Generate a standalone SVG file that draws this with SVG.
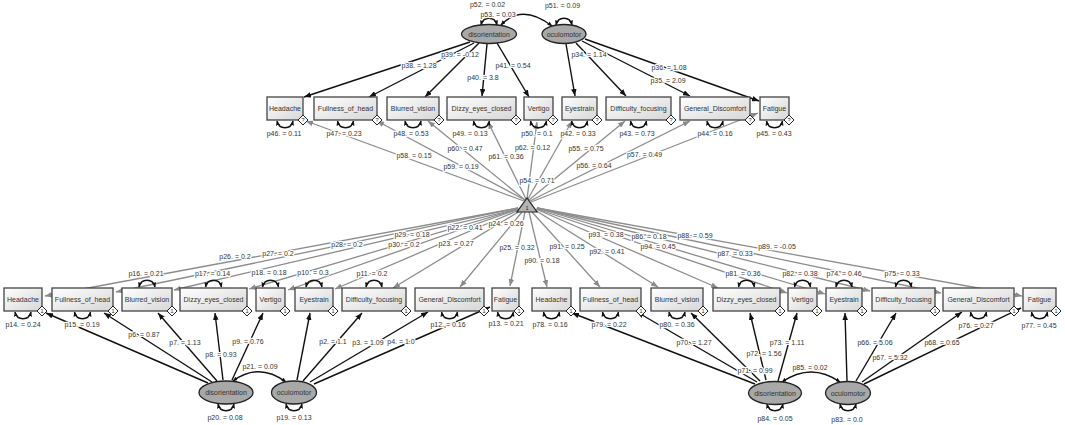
<svg xmlns="http://www.w3.org/2000/svg" width="1065" height="425" viewBox="0 0 1065 425">
<defs>
<linearGradient id="gr" x1="0" y1="0" x2="1" y2="1"><stop offset="0" stop-color="#ffffff"/><stop offset="1" stop-color="#d6d6d6"/></linearGradient>
<marker id="ak" viewBox="0 0 10 8" refX="10" refY="4" markerWidth="7" markerHeight="5.6" markerUnits="userSpaceOnUse" orient="auto-start-reverse"><path d="M0,0L10,4L0,8z" fill="#111"/></marker>
<marker id="ag" viewBox="0 0 10 8" refX="10" refY="4" markerWidth="7" markerHeight="5.6" markerUnits="userSpaceOnUse" orient="auto-start-reverse"><path d="M0,0L10,4L0,8z" fill="#8a8a8a"/></marker>
<marker id="al" viewBox="0 0 10 8" refX="9" refY="4" markerWidth="5" markerHeight="4.2" markerUnits="userSpaceOnUse" orient="auto-start-reverse"><path d="M0,0L10,4L0,8z" fill="#111"/></marker>
</defs>
<style>
.k{fill:none;stroke:#111;stroke-width:1.4;marker-end:url(#ak)}
.g{fill:none;stroke:#8c8c8c;stroke-width:1.3;marker-end:url(#ag)}
.lp{fill:none;stroke:#111;stroke-width:1.4;marker-start:url(#al);marker-end:url(#al)}
.bx{fill:url(#gr);stroke:#444;stroke-width:1.3}
.el{fill:#a8a8a8;stroke:#222;stroke-width:1.3}
.tr{fill:#b4b4b4;stroke:#222;stroke-width:1.2}
.dm{fill:#fff;stroke:#222;stroke-width:1}
text{font-family:"Liberation Sans",Arial,sans-serif;font-size:7px;fill:#333;text-anchor:middle}
.lb{stroke:#fff;stroke-width:2.5;paint-order:stroke;stroke-linejoin:round}
.dt{font-size:5.5px;fill:#222}
</style>
<rect width="1065" height="425" fill="#fff"/>
<g id="connectors">
<!-- top loadings -->
<path class="k" d="M470,42L304,97"/>
<path class="k" d="M474,43L369,97"/>
<path class="k" d="M479,43L425,97"/>
<path class="k" d="M487,44L482,96"/>
<path class="k" d="M497,43L529,97"/>
<path class="k" d="M566,44L575,96"/>
<path class="k" d="M576,43L626,96"/>
<path class="k" d="M582,41L690,96"/>
<path class="k" d="M585,39L759,101"/>
<!-- top intercepts -->
<path class="g" d="M524,201L306,121"/>
<path class="g" d="M525,200L377,121"/>
<path class="g" d="M525,200L428,121"/>
<path class="g" d="M526,199L488,122"/>
<path class="g" d="M527,199L537,122"/>
<path class="g" d="M528,199L572,121"/>
<path class="g" d="M529,200L625,121"/>
<path class="g" d="M530,201L690,121"/>
<path class="g" d="M531,202L758,113"/>
<!-- top loops -->
<path class="lp" d="M277,121C279,130 291,130 293,121"/>
<path class="lp" d="M337.5,121C339.5,130 351.5,130 353.5,121"/>
<path class="lp" d="M405,121C407,130 419,130 421,121"/>
<path class="lp" d="M473.5,121C475.5,130 487.5,130 489.5,121"/>
<path class="lp" d="M530.5,121C532.5,130 544.5,130 546.5,121"/>
<path class="lp" d="M571.5,121C573.5,130 585.5,130 587.5,121"/>
<path class="lp" d="M630.5,121C632.5,130 644.5,130 646.5,121"/>
<path class="lp" d="M707,121C709,130 721,130 723,121"/>
<path class="lp" d="M766.5,121C768.5,130 780.5,130 782.5,121"/>
<path class="lp" d="M481,25C483,16 495,16 497,25"/>
<path class="lp" d="M556,25C558,16 570,16 572,25"/>
<path class="lp" d="M501,25Q522,3 552,26"/>
<!-- bottom left intercepts -->
<path class="g" d="M518,208L45,296"/>
<path class="g" d="M518,208L116,292"/>
<path class="g" d="M518,209L174,290"/>
<path class="g" d="M518,209L249,289"/>
<path class="g" d="M519,209L288,290"/>
<path class="g" d="M519,210L335,289"/>
<path class="g" d="M520,211L393,288"/>
<path class="g" d="M522,212L460,287"/>
<path class="g" d="M525,212L510,286"/>
<!-- bottom right intercepts -->
<path class="g" d="M529,212L547,287"/>
<path class="g" d="M532,212L600,287"/>
<path class="g" d="M535,210L658,287"/>
<path class="g" d="M536,209L718,288"/>
<path class="g" d="M537,209L787,293"/>
<path class="g" d="M537,208L825,294"/>
<path class="g" d="M537,208L870,291"/>
<path class="g" d="M537,208L941,293"/>
<path class="g" d="M537,208L1022,296"/>
<!-- bottom left loadings -->
<path class="k" d="M208,383L46,313"/>
<path class="k" d="M212,382L104,313"/>
<path class="k" d="M217,381L158,313"/>
<path class="k" d="M223,380L215,313"/>
<path class="k" d="M232,380L263,313"/>
<path class="k" d="M297,380L310,313"/>
<path class="k" d="M303,381L362,313"/>
<path class="k" d="M310,382L428,312"/>
<path class="k" d="M314,384L490,307"/>
<!-- bottom right loadings -->
<path class="k" d="M755,384L572,313"/>
<path class="k" d="M757,382L637,312"/>
<path class="k" d="M760,381L691,313"/>
<path class="k" d="M766,380L750,313"/>
<path class="k" d="M778,381L797,313"/>
<path class="k" d="M847,381L845,313"/>
<path class="k" d="M856,381L896,313"/>
<path class="k" d="M862,382L962,312"/>
<path class="k" d="M864,384L1021,308"/>
<!-- bottom loops above -->
<path class="lp" d="M139,287C141,278 153,278 155,287"/>
<path class="lp" d="M205.5,287C207.5,278 219.5,278 221.5,287"/>
<path class="lp" d="M262.5,287C264.5,278 276.5,278 278.5,287"/>
<path class="lp" d="M306,287C308,278 320,278 322,287"/>
<path class="lp" d="M366,287C368,278 380,278 382,287"/>
<path class="lp" d="M738.5,287C740.5,278 752.5,278 754.5,287"/>
<path class="lp" d="M794.5,287C796.5,278 808.5,278 810.5,287"/>
<path class="lp" d="M836,287C838,278 850,278 852,287"/>
<path class="lp" d="M895.5,287C897.5,278 909.5,278 911.5,287"/>
<!-- bottom loops below -->
<path class="lp" d="M15,312C17,321 29,321 31,312"/>
<path class="lp" d="M74.5,312C76.5,321 88.5,321 90.5,312"/>
<path class="lp" d="M441.5,312C443.5,321 455.5,321 457.5,312"/>
<path class="lp" d="M497.5,312C499.5,321 511.5,321 513.5,312"/>
<path class="lp" d="M543.5,312C545.5,321 557.5,321 559.5,312"/>
<path class="lp" d="M602.5,312C604.5,321 616.5,321 618.5,312"/>
<path class="lp" d="M669,312C671,321 683,321 685,312"/>
<path class="lp" d="M970.5,312C972.5,321 984.5,321 986.5,312"/>
<path class="lp" d="M1031.5,312C1033.5,321 1045.5,321 1047.5,312"/>
<!-- latent variances and covariances bottom -->
<path class="lp" d="M218,404C220,413 232,413 234,404"/>
<path class="lp" d="M286,404C288,413 300,413 302,404"/>
<path class="lp" d="M767,404C769,413 781,413 783,404"/>
<path class="lp" d="M840,404C842,413 854,413 856,404"/>
<path class="lp" d="M233,381Q259,362 286,382"/>
<path class="lp" d="M782,382Q811,362 840,382"/>
</g>
<g id="nodes">
<g id="top_disorientation"><ellipse class="el" cx="489" cy="34" rx="27.5" ry="9.5"/><text x="489" y="36.5">disorientation</text></g>
<g id="top_oculomotor"><ellipse class="el" cx="564" cy="34" rx="22" ry="9.5"/><text x="564" y="36.5">oculomotor</text></g>
<g id="top_headache"><rect class="bx" x="267" y="97" width="36" height="23"/><text x="285" y="111">Headache</text><path class="dm" d="M303,115L308,120L303,125L298,120Z"/><text class="dt" x="303" y="122">?</text></g>
<g id="top_fullness_of_head"><rect class="bx" x="314" y="97" width="63" height="23"/><text x="345.5" y="111">Fullness_of_head</text><path class="dm" d="M377,115L382,120L377,125L372,120Z"/><text class="dt" x="377" y="122">?</text></g>
<g id="top_blurred_vision"><rect class="bx" x="387" y="97" width="52" height="23"/><text x="413" y="111">Blurred_vision</text><path class="dm" d="M439,115L444,120L439,125L434,120Z"/><text class="dt" x="439" y="122">?</text></g>
<g id="top_dizzy_eyes_closed"><rect class="bx" x="447" y="97" width="69" height="23"/><text x="481.5" y="111">Dizzy_eyes_closed</text><path class="dm" d="M516,115L521,120L516,125L511,120Z"/><text class="dt" x="516" y="122">?</text></g>
<g id="top_vertigo"><rect class="bx" x="524" y="97" width="29" height="23"/><text x="538.5" y="111">Vertigo</text><path class="dm" d="M553,115L558,120L553,125L548,120Z"/><text class="dt" x="553" y="122">?</text></g>
<g id="top_eyestrain"><rect class="bx" x="562" y="97" width="35" height="23"/><text x="579.5" y="111">Eyestrain</text><path class="dm" d="M597,115L602,120L597,125L592,120Z"/><text class="dt" x="597" y="122">?</text></g>
<g id="top_difficulty_focusing"><rect class="bx" x="606" y="97" width="65" height="23"/><text x="638.5" y="111">Difficulty_focusing</text><path class="dm" d="M671,115L676,120L671,125L666,120Z"/><text class="dt" x="671" y="122">?</text></g>
<g id="top_general_discomfort"><rect class="bx" x="680" y="97" width="70" height="23"/><text x="715" y="111">General_Discomfort</text><path class="dm" d="M750,115L755,120L750,125L745,120Z"/><text class="dt" x="750" y="122">?</text></g>
<g id="top_fatigue"><rect class="bx" x="760" y="97" width="29" height="23"/><text x="774.5" y="111">Fatigue</text><path class="dm" d="M789,115L794,120L789,125L784,120Z"/><text class="dt" x="789" y="122">?</text></g>
<g id="intercept"><path class="tr" d="M517,212L537,212L527,198Z"/><text class="dt" x="527" y="210">1</text></g>
<g id="bl_headache"><rect class="bx" x="4" y="288" width="38" height="23"/><text x="23" y="302">Headache</text><path class="dm" d="M42,306L47,311L42,316L37,311Z"/><text class="dt" x="42" y="313">1</text></g>
<g id="bl_fullness_of_head"><rect class="bx" x="52" y="288" width="61" height="23"/><text x="82.5" y="302">Fullness_of_head</text><path class="dm" d="M113,306L118,311L113,316L108,311Z"/><text class="dt" x="113" y="313">1</text></g>
<g id="bl_blurred_vision"><rect class="bx" x="122" y="288" width="50" height="23"/><text x="147" y="302">Blurred_vision</text><path class="dm" d="M172,306L177,311L172,316L167,311Z"/><text class="dt" x="172" y="313">1</text></g>
<g id="bl_dizzy_eyes_closed"><rect class="bx" x="180" y="288" width="67" height="23"/><text x="213.5" y="302">Dizzy_eyes_closed</text><path class="dm" d="M247,306L252,311L247,316L242,311Z"/><text class="dt" x="247" y="313">1</text></g>
<g id="bl_vertigo"><rect class="bx" x="256" y="288" width="29" height="23"/><text x="270.5" y="302">Vertigo</text><path class="dm" d="M285,306L290,311L285,316L280,311Z"/><text class="dt" x="285" y="313">1</text></g>
<g id="bl_eyestrain"><rect class="bx" x="295" y="288" width="38" height="23"/><text x="314" y="302">Eyestrain</text><path class="dm" d="M333,306L338,311L333,316L328,311Z"/><text class="dt" x="333" y="313">1</text></g>
<g id="bl_difficulty_focusing"><rect class="bx" x="342" y="288" width="64" height="23"/><text x="374" y="302">Difficulty_focusing</text><path class="dm" d="M406,306L411,311L406,316L401,311Z"/><text class="dt" x="406" y="313">1</text></g>
<g id="bl_general_discomfort"><rect class="bx" x="415" y="288" width="69" height="23"/><text x="449.5" y="302">General_Discomfort</text><path class="dm" d="M484,306L489,311L484,316L479,311Z"/><text class="dt" x="484" y="313">1</text></g>
<g id="bl_fatigue"><rect class="bx" x="492" y="288" width="27" height="23"/><text x="505.5" y="302">Fatigue</text><path class="dm" d="M519,306L524,311L519,316L514,311Z"/><text class="dt" x="519" y="313">1</text></g>
<g id="br_headache"><rect class="bx" x="532" y="288" width="39" height="23"/><text x="551.5" y="302">Headache</text><path class="dm" d="M571,306L576,311L571,316L566,311Z"/><text class="dt" x="571" y="313">1</text></g>
<g id="br_fullness_of_head"><rect class="bx" x="580" y="288" width="61" height="23"/><text x="610.5" y="302">Fullness_of_head</text><path class="dm" d="M641,306L646,311L641,316L636,311Z"/><text class="dt" x="641" y="313">1</text></g>
<g id="br_blurred_vision"><rect class="bx" x="651" y="288" width="52" height="23"/><text x="677" y="302">Blurred_vision</text><path class="dm" d="M703,306L708,311L703,316L698,311Z"/><text class="dt" x="703" y="313">1</text></g>
<g id="br_dizzy_eyes_closed"><rect class="bx" x="713" y="288" width="67" height="23"/><text x="746.5" y="302">Dizzy_eyes_closed</text><path class="dm" d="M780,306L785,311L780,316L775,311Z"/><text class="dt" x="780" y="313">1</text></g>
<g id="br_vertigo"><rect class="bx" x="788" y="288" width="29" height="23"/><text x="802.5" y="302">Vertigo</text><path class="dm" d="M817,306L822,311L817,316L812,311Z"/><text class="dt" x="817" y="313">1</text></g>
<g id="br_eyestrain"><rect class="bx" x="826" y="288" width="36" height="23"/><text x="844" y="302">Eyestrain</text><path class="dm" d="M862,306L867,311L862,316L857,311Z"/><text class="dt" x="862" y="313">1</text></g>
<g id="br_difficulty_focusing"><rect class="bx" x="872" y="288" width="63" height="23"/><text x="903.5" y="302">Difficulty_focusing</text><path class="dm" d="M935,306L940,311L935,316L930,311Z"/><text class="dt" x="935" y="313">1</text></g>
<g id="br_general_discomfort"><rect class="bx" x="943" y="288" width="71" height="23"/><text x="978.5" y="302">General_Discomfort</text><path class="dm" d="M1014,306L1019,311L1014,316L1009,311Z"/><text class="dt" x="1014" y="313">1</text></g>
<g id="br_fatigue"><rect class="bx" x="1023" y="288" width="33" height="23"/><text x="1039.5" y="302">Fatigue</text><path class="dm" d="M1056,306L1061,311L1056,316L1051,311Z"/><text class="dt" x="1056" y="313">1</text></g>
<g id="bl_disorientation"><ellipse class="el" cx="226" cy="392.5" rx="27" ry="11.5"/><text x="226" y="395">disorientation</text></g>
<g id="bl_oculomotor"><ellipse class="el" cx="294" cy="392.5" rx="22.5" ry="11.5"/><text x="294" y="395">oculomotor</text></g>
<g id="br_disorientation"><ellipse class="el" cx="775" cy="393" rx="26.5" ry="11.5"/><text x="775" y="395.5">disorientation</text></g>
<g id="br_oculomotor"><ellipse class="el" cx="848" cy="393" rx="22.5" ry="11.5"/><text x="848" y="395.5">oculomotor</text></g>
</g>
<g id="labels" class="lb">
<text class="lb" x="487.5" y="7">p52. = 0.02</text>
<text class="lb" x="498" y="17">p53. = 0.03</text>
<text class="lb" x="562.5" y="7.5">p51. = 0.09</text>
<text class="lb" x="419" y="68">p38. = 1.28</text>
<text class="lb" x="460" y="57">p39. = -0.12</text>
<text class="lb" x="483" y="80">p40. = 3.8</text>
<text class="lb" x="513" y="68">p41. = 0.54</text>
<text class="lb" x="589" y="57">p34. = 1.14</text>
<text class="lb" x="669" y="70">p36. = 1.08</text>
<text class="lb" x="668" y="83">p35. = 2.09</text>
<text class="lb" x="284" y="136">p46. = 0.11</text>
<text class="lb" x="344" y="136">p47. = 0.23</text>
<text class="lb" x="411" y="136">p48. = 0.53</text>
<text class="lb" x="470" y="136">p49. = 0.13</text>
<text class="lb" x="537" y="136">p50. = 0.1</text>
<text class="lb" x="578" y="136">p42. = 0.33</text>
<text class="lb" x="637" y="136">p43. = 0.73</text>
<text class="lb" x="715" y="136">p44. = 0.16</text>
<text class="lb" x="774" y="136">p45. = 0.43</text>
<text class="lb" x="465" y="151">p60. = 0.47</text>
<text class="lb" x="414" y="158">p58. = 0.15</text>
<text class="lb" x="461" y="169">p59. = 0.19</text>
<text class="lb" x="506" y="159">p61. = 0.36</text>
<text class="lb" x="532.5" y="149.5">p62. = 0.12</text>
<text class="lb" x="537" y="183">p54. = 0.71</text>
<text class="lb" x="586" y="151">p55. = 0.75</text>
<text class="lb" x="594" y="168">p56. = 0.64</text>
<text class="lb" x="644.5" y="157">p57. = 0.49</text>
<text class="lb" x="506" y="225.5">p24. = 0.26</text>
<text class="lb" x="465" y="229.5">p22. = 0.41</text>
<text class="lb" x="412" y="237">p29. = 0.18</text>
<text class="lb" x="404" y="247">p30. = 0.2</text>
<text class="lb" x="456" y="246">p23. = 0.27</text>
<text class="lb" x="347" y="247">p28. = 0.2</text>
<text class="lb" x="278" y="255.5">p27. = 0.2</text>
<text class="lb" x="235" y="258.5">p26. = 0.2</text>
<text class="lb" x="517" y="249.5">p25. = 0.32</text>
<text class="lb" x="146" y="275.5">p16. = 0.21</text>
<text class="lb" x="212.5" y="275.5">p17. = 0.14</text>
<text class="lb" x="269" y="275">p18. = 0.18</text>
<text class="lb" x="313" y="274.5">p10. = 0.3</text>
<text class="lb" x="372" y="275.5">p11. = 0.2</text>
<text class="lb" x="23" y="327">p14. = 0.24</text>
<text class="lb" x="82" y="327">p15. = 0.19</text>
<text class="lb" x="448" y="327">p12. = 0.16</text>
<text class="lb" x="506" y="326">p13. = 0.21</text>
<text class="lb" x="144" y="337">p6. = 0.87</text>
<text class="lb" x="185" y="344.5">p7. = 1.13</text>
<text class="lb" x="221" y="357">p8. = 0.93</text>
<text class="lb" x="248" y="344">p9. = 0.76</text>
<text class="lb" x="333" y="344">p2. = 1.1</text>
<text class="lb" x="368" y="345">p3. = 1.09</text>
<text class="lb" x="401" y="344">p4. = 1.0</text>
<text class="lb" x="260" y="369">p21. = 0.09</text>
<text class="lb" x="225" y="420">p20. = 0.08</text>
<text class="lb" x="294" y="420">p19. = 0.13</text>
<text class="lb" x="542" y="263">p90. = 0.18</text>
<text class="lb" x="567" y="249">p91. = 0.25</text>
<text class="lb" x="607" y="254">p92. = 0.41</text>
<text class="lb" x="606" y="237">p93. = 0.38</text>
<text class="lb" x="649" y="238.5">p86. = 0.18</text>
<text class="lb" x="658" y="248.5">p94. = 0.45</text>
<text class="lb" x="695" y="237.5">p88. = 0.59</text>
<text class="lb" x="735" y="255.5">p87. = 0.33</text>
<text class="lb" x="777" y="249">p89. = -0.05</text>
<text class="lb" x="743" y="275.5">p81. = 0.36</text>
<text class="lb" x="800" y="275.5">p82. = 0.38</text>
<text class="lb" x="844" y="275.5">p74. = 0.46</text>
<text class="lb" x="902" y="275.5">p75. = 0.33</text>
<text class="lb" x="550" y="327">p78. = 0.16</text>
<text class="lb" x="609" y="327">p79. = 0.22</text>
<text class="lb" x="677" y="327">p80. = 0.36</text>
<text class="lb" x="976" y="327.5">p76. = 0.27</text>
<text class="lb" x="1039" y="327.5">p77. = 0.45</text>
<text class="lb" x="694" y="344.5">p70. = 1.27</text>
<text class="lb" x="764" y="356">p72. = 1.56</text>
<text class="lb" x="755" y="372.5">p71. = 0.99</text>
<text class="lb" x="787" y="344.5">p73. = 1.11</text>
<text class="lb" x="875" y="344.5">p66. = 5.06</text>
<text class="lb" x="890" y="359.5">p67. = 5.32</text>
<text class="lb" x="942" y="344.5">p68. = 0.65</text>
<text class="lb" x="810" y="370">p85. = 0.02</text>
<text class="lb" x="775" y="421">p84. = 0.05</text>
<text class="lb" x="847" y="421.5">p83. = 0.0</text>
</g>
</svg>
